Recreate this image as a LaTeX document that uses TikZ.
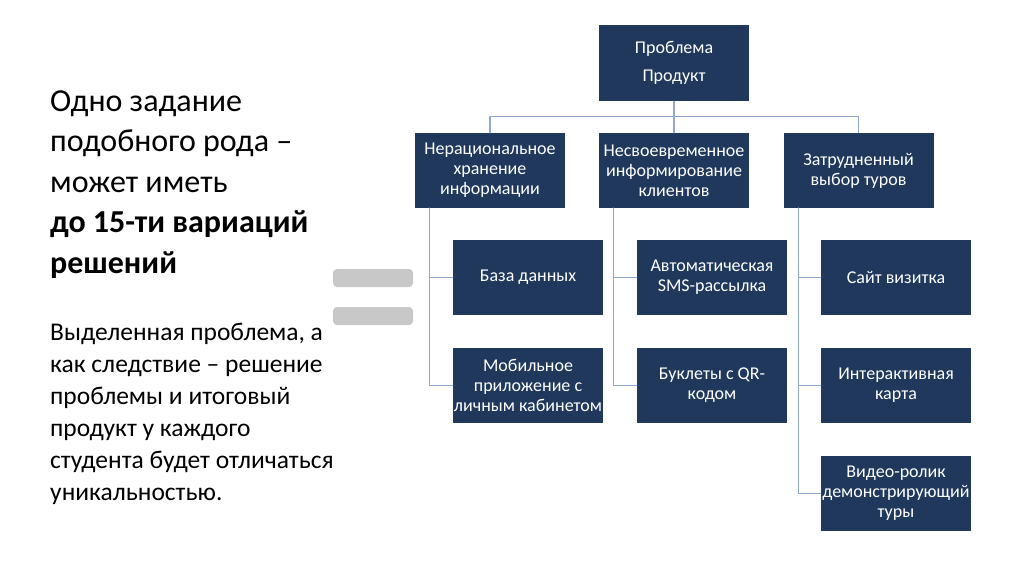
\documentclass[tikz,border=0pt]{standalone}
\usepackage{fontspec}
\setmainfont{Carlito}
\definecolor{boxnavy}{RGB}{31,56,92}
\definecolor{linkblue}{RGB}{141,170,204}
\definecolor{eqgray}{RGB}{200,200,200}

\begin{document}
\begin{tikzpicture}[x=1pt,y=-1pt,line cap=round,line join=round,
  box/.style={fill=boxnavy,text=white,minimum width=150pt,minimum height=75pt,
    inner sep=1pt,align=center,font=\fontsize{18}{20}\selectfont},
  link/.style={draw=linkblue,line width=1.2pt}]
  \path[use as bounding box] (0,0) rectangle (1024,574);

  % left hand text (anchored at the last baseline)
  \node[anchor=base west,inner sep=0pt,align=left,font=\fontsize{32}{40.5}\selectfont]
    (lead) at (50,273) {Одно задание\\подобного рода –\\может иметь\\
      \textbf{до 15-ти вариаций}\\\textbf{решений}};
  \node[anchor=base west,inner sep=0pt,align=left,font=\fontsize{25.5}{32}\selectfont]
    (note) at (50,500) {Выделенная проблема, а\\как следствие – решение\\
      проблемы и итоговый\\продукт у каждого\\студента будет отличаться\\уникальностью.};

  % equals sign
  \fill[eqgray,rounded corners=4pt] (333,269) rectangle (413,287);
  \fill[eqgray,rounded corners=4pt] (333,307) rectangle (413,325);

  % tree
  \node[box,minimum height=76pt] (top) at (674,63) {Проблема\\[8pt]Продукт};

  \node[box] (b1) at (490,170.5)   {Нерациональное\\хранение\\информации};
  \node[box] (b2) at (674,170.5)   {Несвоевременное\\информирование\\клиентов};
  \node[box] (b3) at (858.5,170.5) {Затрудненный\\выбор туров};

  \node[box] (c11) at (528,277.5) {База данных};
  \node[box] (c12) at (528,385.5) {Мобильное\\приложение с\\личным кабинетом};
  \node[box] (c21) at (712,277.5) {Автоматическая\\SMS-рассылка};
  \node[box] (c22) at (712,385.5) {Буклеты с QR-\\кодом};
  \node[box] (c31) at (896,277.5) {Сайт визитка};
  \node[box] (c32) at (896,385.5) {Интерактивная\\карта};
  \node[box] (c33) at (896,493.5) {Видео-ролик\\демонстрирующий\\туры};

  \draw[link] (top.south) -- ++(0,15) coordinate (bus);
  \foreach \col in {b1,b2,b3}
    \draw[link] (bus) -| (\col.north);
  \foreach \col/\kids in {b1/{c11,c12},b2/{c21,c22},b3/{c31,c32,c33}}
    \foreach \kid in \kids
      \draw[link] ([xshift=15pt]\col.south west) |- (\kid.west);
\end{tikzpicture}
\end{document}
